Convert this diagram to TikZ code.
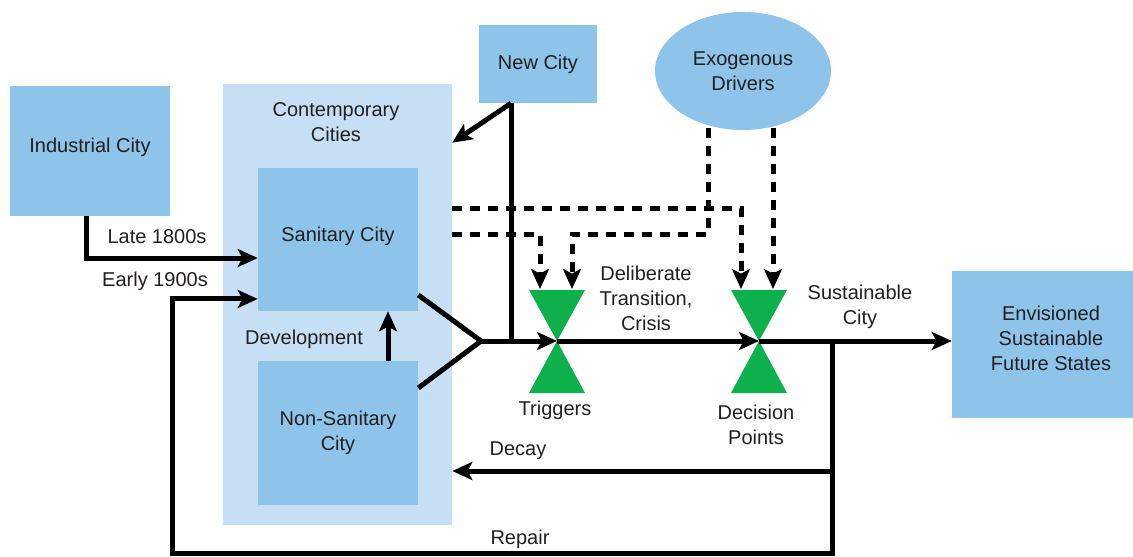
\documentclass[tikz,border=0pt]{standalone}
\usepackage{fontspec}
\setmainfont{Liberation Sans}
\usetikzlibrary{positioning,shapes.geometric,arrows.meta}

\definecolor{cityblue}{HTML}{8EC4EA}
\definecolor{paleblue}{HTML}{C6DFF4}
\definecolor{valvegreen}{HTML}{0DB04B}
\definecolor{ink}{HTML}{231F20}

\begin{document}
\begin{tikzpicture}[x=0.75pt, y=-0.75pt,
    every node/.style={font=\fontsize{15}{18.75}\selectfont, text=ink, align=center},
    city/.style={rectangle, fill=cityblue, inner sep=0pt},
    link/.style={line width=3.75pt},
    flow/.style={link, -{Stealth[length=15pt, width=13.5pt, inset=3.5pt]}},
    drive/.style={flow, dash pattern=on 7.5pt off 6pt}]
    \useasboundingbox[fill=white] (0,0) rectangle (1133,557);

    \node[city, fill=paleblue, minimum width=171.75pt, minimum height=330.75pt] (contemp) at (337.5,304.5) {};
    \node (contemplabel) at (336,122) {Contemporary\\Cities};
    \node[city, minimum width=120pt, minimum height=97.5pt, text depth=9pt] (industrial) at (90,151) {Industrial City};
    \node[city, minimum width=120pt, minimum height=107.25pt, text depth=7.5pt] (sanitary) at (338,239.5) {Sanitary City};
    \node[city, minimum width=120pt, minimum height=108pt] (nonsanitary) at (338,433) {Non-Sanitary\\City};
    \node[city, minimum width=88.5pt, minimum height=58.5pt] (newcity) at (538,64) {New City};
    \node[ellipse, fill=cityblue, inner sep=0pt, minimum width=132pt, minimum height=88.5pt] (exogenous) at (743,71) {Exogenous\\Drivers};
    \node[city, minimum width=148.5pt, minimum height=110.25pt, text depth=10pt] (future) at (1051,344.5) {Envisioned\\Sustainable\\Future States};

    % junctions on the main line
    \coordinate (fork) at (481,341);
    \coordinate (v1) at (557,341);
    \coordinate (v2) at (759,341);
    \coordinate (split) at (832,341);
    \coordinate (decay) at (832,471);
    \coordinate (repairR) at (832,553);
    \coordinate (repairL) at (172,553);
    \coordinate (dashhi) at (0,208);
    \coordinate (dashlo) at (0,234);
    \coordinate (ex1) at (708,128);
    \coordinate (ex2) at (773,128);
    \coordinate (tip1a) at (540,289);
    \coordinate (tip1b) at (572,289);
    \coordinate (tip2a) at (741,289);
    \coordinate (tip2b) at (773,289);

    % valves
    \foreach \v in {v1,v2} {
        \fill[valvegreen] (\v) -- ++(-28,-51) -- ++(56,0) -- cycle;
        \fill[valvegreen] (\v) -- ++(-28,52) -- ++(56,0) -- cycle;
    }

    \draw[flow] ([xshift=-3pt]industrial.south) |- ([yshift=-13.9pt]sanitary.west);
    \draw[flow] ([xshift=37.5pt]nonsanitary.north) -- ([xshift=37.5pt]sanitary.south);
    \draw[link] ([yshift=-41.6pt]sanitary.east) -- (fork) -- ([yshift=33.75pt]nonsanitary.east);
    \draw[flow] (fork) -- (v1);
    \draw[flow] (v1) -- (v2);
    \draw[flow] (v2) -- (future.west |- v2);
    \draw[link] ([xshift=-20.25pt]newcity.south) -- ([xshift=-20.25pt]newcity.south |- fork);
    \draw[flow] ([xshift=-20.25pt]newcity.south) -- ([yshift=-44.25pt]contemp.north east);
    \draw[flow] (split) -- (repairR) -- (repairL) |- ([yshift=-44.6pt]sanitary.west);
    \draw[flow] (decay) -- (decay -| contemp.east);

    % exogenous and contemporary drivers
    \draw[drive] (contemp.east |- dashhi) -| (tip2a);
    \draw[drive] (contemp.east |- dashlo) -| (tip1a);
    \draw[drive] (ex1) |- (tip1b |- dashlo) -- (tip1b);
    \draw[drive] (ex2) -- (tip2b);

    \node (late) at (157,237) {Late 1800s};
    \node (early) at (155,281) {Early 1900s};
    \node (develop) at (304,339) {Development};
    \node (triggers) at (555,410) {Triggers};
    \node (decision) at (756,425) {Decision\\Points};
    \node (deliberate) at (646,298) {Deliberate\\Transition,\\Crisis};
    \node (sustcity) at (860,307) {Sustainable\\City};
    \node (decaylabel) at (518,451) {Decay};
    \node (repairlabel) at (520,539) {Repair};

\end{tikzpicture}
\end{document}
